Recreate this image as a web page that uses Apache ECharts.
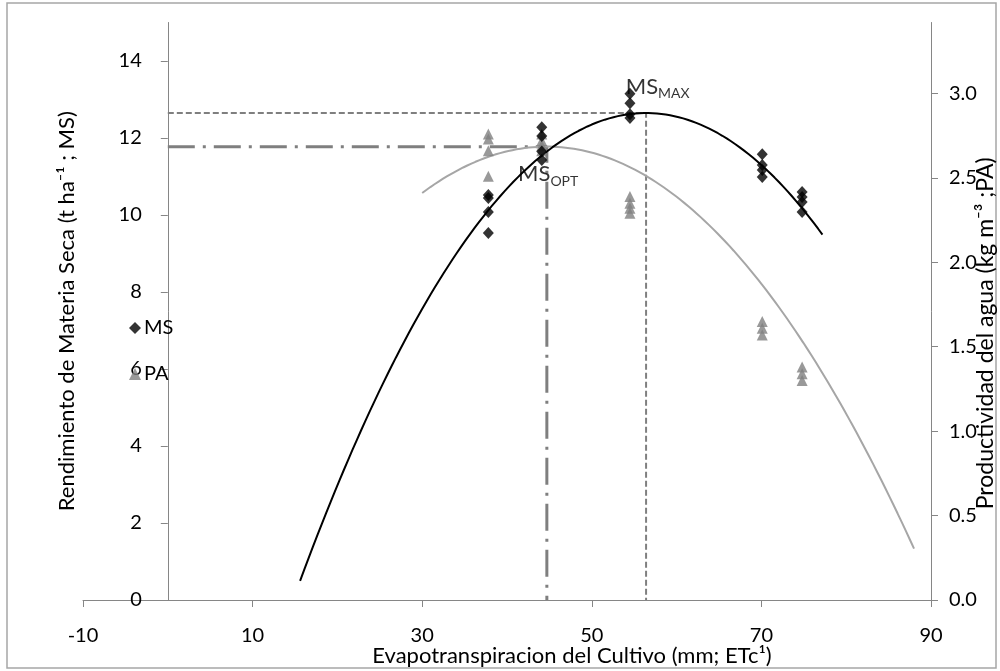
<!DOCTYPE html>
<html>
<head>
<meta charset="utf-8">
<script src="https://cdn.jsdelivr.net/npm/echarts@6/dist/echarts.min.js"></script>
<style>
  html, body { margin: 0; padding: 0; background: #fff; }
  #chart { width: 1000px; height: 671px; }
</style>
</head>
<body>
<div id="chart"></div>
<script>
// Crop evapotranspiration (mm) of each treatment
const etc = [37.8, 44.1, 54.5, 70.1, 74.8];
// Dry matter yield (t/ha), replicates per treatment
const msYield = [
  [10.52, 10.44, 10.08, 9.53],
  [12.28, 12.05, 11.65, 11.43],
  [13.15, 12.90, 12.62, 12.52],
  [11.58, 11.30, 11.17, 10.99],
  [10.60, 10.47, 10.34, 10.08]
];
// Water productivity (kg/m3), replicates per treatment
const paProd = [
  [2.76, 2.73, 2.66, 2.51],
  [2.76, 2.72, 2.69, 2.66],
  [2.39, 2.35, 2.32, 2.29],
  [1.65, 1.61, 1.57],
  [1.38, 1.34, 1.30]
];
// Second order trendlines: [c, b, a] for y = c + b*x + a*x^2, and drawn x range
const msTrendCoef = [-10.57, 0.8234, -0.0073];
const msTrendRange = [15.6, 77.2];
const paTrendCoef = [0.1474, 0.11354, -0.00127];
const paTrendRange = [30, 88];
// Maximum and optimum yield points [ETc, MS]
const msMax = [56.4, 12.65];
const msOpt = [44.7, 11.77];
// Tick labels
const xTicks = [-10, 10, 30, 50, 70, 90];
const yLeftTicks = [0, 2, 4, 6, 8, 10, 12, 14];
const yRightTicks = [0, 0.5, 1.0, 1.5, 2.0, 2.5, 3.0];

const FONT = 'Lato, "Open Sans", sans-serif';
const AXIS_GRAY = '#868686';

// plot area (px) and the x range it spans
const GRID = { left: 83, right: 69, top: 22.5, bottom: 71 };
const X_MIN = -10, X_MAX = 90;
const plotWidth = 1000 - GRID.left - GRID.right;
// the primary value axis crosses the horizontal axis at ETc = 0
const leftAxisShift = (0 - X_MIN) / (X_MAX - X_MIN) * plotWidth;

function pointsOf(xs, groups) {
  const out = [];
  groups.forEach((g, i) => g.forEach(v => out.push([xs[i], v])));
  return out;
}
function evalPoly(coef, x) {
  return coef[0] + coef[1] * x + coef[2] * x * x;
}
function trend(coef, range) {
  const out = [];
  const n = 120;
  for (let i = 0; i <= n; i++) {
    const x = range[0] + (range[1] - range[0]) * i / n;
    out.push([x, evalPoly(coef, x)]);
  }
  return out;
}

const chart = echarts.init(document.getElementById('chart'), null, { renderer: 'canvas' });

const annoRich = {
  b: { fontSize: 22, fontFamily: FONT, color: '#000' },
  s: { fontSize: 14, fontFamily: FONT, color: '#000', padding: [15, 0, 0, 0] }
};

chart.setOption({
  animation: false,
  backgroundColor: '#fff',
  textStyle: { fontFamily: FONT },
  graphic: [{
    type: 'rect',
    shape: { x: 7, y: 3, width: 989, height: 665 },
    style: { fill: 'none', stroke: '#a6a6a6', lineWidth: 1.5 },
    silent: true
  }],
  grid: Object.assign({ containLabel: false, outerBoundsMode: 'none' }, GRID),
  legend: {
    orient: 'vertical',
    left: 124,
    top: 313,
    itemGap: 26,
    itemWidth: 12,
    itemHeight: 12,
    data: [
      { name: 'MS', icon: 'diamond' },
      { name: 'PA', icon: 'triangle' }
    ],
    textStyle: { fontSize: 20, fontFamily: FONT, color: '#000', padding: [0, 0, 0, -2] }
  },
  xAxis: {
    type: 'value',
    min: X_MIN,
    max: X_MAX,
    splitLine: { show: false },
    axisLine: { onZero: false, lineStyle: { color: AXIS_GRAY, width: 1 } },
    axisTick: { show: true, length: 7, customValues: xTicks, lineStyle: { color: AXIS_GRAY } },
    axisLabel: { customValues: xTicks, fontSize: 20, color: '#000', margin: 26, fontFamily: FONT },
    name: 'Evapotranspiracion del Cultivo (mm; ETc¹)',
    nameLocation: 'middle',
    nameMoveOverlap: false,
    nameGap: 45,
    nameTextStyle: { fontSize: 22, color: '#000', fontFamily: FONT, padding: [0, 0, 0, 130] }
  },
  yAxis: [{
    type: 'value',
    min: 0,
    max: 15,
    offset: -leftAxisShift,
    splitLine: { show: false },
    axisLine: { show: true, onZero: false, lineStyle: { color: AXIS_GRAY, width: 1 } },
    axisTick: { show: true, length: 7, customValues: yLeftTicks, lineStyle: { color: AXIS_GRAY } },
    axisLabel: { customValues: yLeftTicks, fontSize: 20, color: '#000', margin: 26, fontFamily: FONT },
    name: 'Rendimiento de Materia Seca (t ha⁻¹ ; MS)',
    nameLocation: 'middle',
    nameMoveOverlap: false,
    nameGap: 90,
    nameRotate: 90,
    nameTextStyle: { fontSize: 22, color: '#000', fontFamily: FONT }
  }, {
    type: 'value',
    min: 0,
    max: 3.42,
    position: 'right',
    splitLine: { show: false },
    axisLine: { show: true, onZero: false, lineStyle: { color: AXIS_GRAY, width: 1 } },
    axisTick: { show: true, length: 7, customValues: yRightTicks, lineStyle: { color: AXIS_GRAY } },
    axisLabel: {
      customValues: yRightTicks, fontSize: 20, color: '#000', margin: 18, fontFamily: FONT,
      formatter: v => v.toFixed(1)
    },
    name: 'Productividad del agua (kg m⁻³ ;PA)',
    nameLocation: 'middle',
    nameMoveOverlap: false,
    nameGap: 43,
    nameRotate: 90,
    nameTextStyle: { fontSize: 23, color: '#000', fontFamily: FONT, padding: [0, 44, 0, 0] }
  }],
  series: [
    {
      name: 'MS max',
      type: 'line',
      data: [[0, msMax[1]], msMax, [msMax[0], 0]],
      symbol: 'none',
      lineStyle: { color: '#7f7f7f', width: 2, type: [6, 3] },
      z: 1
    },
    {
      name: 'MS opt',
      type: 'line',
      data: [[0, msOpt[1]], msOpt, [msOpt[0], 0]],
      symbol: 'none',
      lineStyle: { color: '#7f7f7f', width: 3, type: [27, 8, 3, 8] },
      z: 1
    },
    {
      name: 'PA trend',
      type: 'line',
      yAxisIndex: 1,
      data: trend(paTrendCoef, paTrendRange),
      symbol: 'none',
      lineStyle: { color: '#a6a6a6', width: 2 },
      z: 2
    },
    {
      name: 'MS trend',
      type: 'line',
      data: trend(msTrendCoef, msTrendRange),
      symbol: 'none',
      lineStyle: { color: '#000', width: 2 },
      z: 3
    },
    {
      name: 'PA',
      type: 'scatter',
      yAxisIndex: 1,
      symbol: 'triangle',
      symbolSize: [11, 11],
      itemStyle: { color: '#808080' },
      data: pointsOf(etc, paProd),
      z: 4
    },
    {
      name: 'MS',
      type: 'scatter',
      symbol: 'diamond',
      symbolSize: [11, 12],
      itemStyle: { color: '#000' },
      data: pointsOf(etc, msYield),
      z: 5
    },
    {
      name: 'labels',
      type: 'scatter',
      symbolSize: 0,
      silent: true,
      data: [
        { value: [54.0, 13.34], label: { formatter: '{b|MS}{s|MAX}' } },
        { value: [41.3, 11.06], label: { formatter: '{b|MS}{s|OPT}' } }
      ],
      label: { show: true, position: 'right', distance: 0, rich: annoRich },
      z: 6
    }
  ]
});
</script>
</body>
</html>
